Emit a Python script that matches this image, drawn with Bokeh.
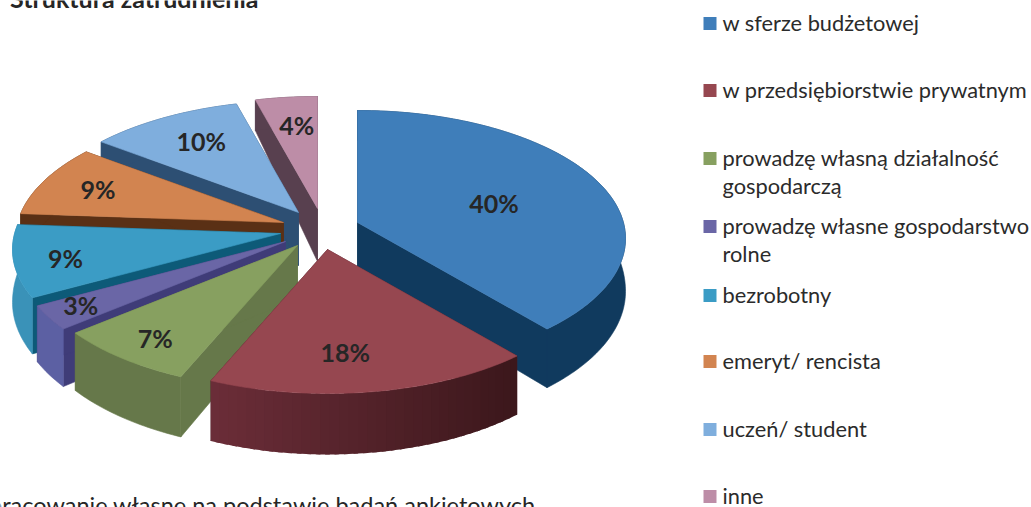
import math
from bokeh.plotting import figure
from bokeh.models import Range1d
from bokeh.core.properties import value
from bokeh.embed import file_html
from bokeh.resources import INLINE

# ---- data ----
categories = ["w sferze budżetowej", "w przedsiębiorstwie prywatnym",
              "prowadzę własną działalność\ngospodarczą",
              "prowadzę własne gospodarstwo\nrolne", "bezrobotny",
              "emeryt/ rencista", "uczeń/ student", "inne"]
shares = [40, 18, 7, 3, 9, 9, 10, 4]

# ---- styles ----
top_colors = ["#3F7EBA", "#964750", "#87A060", "#6A66A6", "#3B9CC5", "#D28450", "#7FAEDD", "#BD8DA7"]
radial_colors = ["#103A5E", "#4F2028", "#66784A", "#3F3C78", "#0D5A78", "#5A3015", "#2D4F73", "#58404F"]
wall_a = ["#103A5E", "#6B2D38", "#66784A", "#5C60A3", "#3A92B8", "#5A3015", "#2D4F73", "#58404F"]
wall_b = ["#103A5E", "#3B171B", "#66784A", "#5C60A3", "#3A92B8", "#5A3015", "#2D4F73", "#58404F"]
legend_colors = ["#3F7EBA", "#964750", "#87A060", "#6A66A6", "#3B9CC5", "#D28450", "#7FAEDD", "#BD8DA7"]

# ---- layout ----
W, H = 1031, 507
CX, CY = 300, 230
RX, RY, SHIFT_Y = 268, 128, 16
explode = [(57, -8), (27, 19), (-3, 15), (-15, 11), (-20, 3), (-17, -8), (-2, -18), (17, -22)]
warp = [0, -9, -3, 2, 3, 4, 3, 1, 0]          # view distortion at slice boundaries, degrees
label_nudge = [(-12, 0), (-9, 17), (-37, 25), (-63, 18), (-55, 8), (-42, -8), (-16, -15), (-2, -17)]
draw_order = [7, 6, 5, 4, 3, 2, 0, 1]
legend_y = [23, 90, 158, 226, 295, 361, 429, 496]
LINE_H = 28


def offset(t_deg, r=1.0):
    t = math.radians(t_deg)
    return r * RX * math.sin(t), r * (SHIFT_Y - RY * math.cos(t))


def depth(t_deg, r=1.0):
    v = r * math.cos(math.radians(t_deg))
    return 53 - 23 * v if v > 0 else 53 - 8 * v


def mix(a, b, f):
    ca = [int(a[i:i + 2], 16) for i in (1, 3, 5)]
    cb = [int(b[i:i + 2], 16) for i in (1, 3, 5)]
    return "#%02x%02x%02x" % tuple(round(x + (y - x) * f) for x, y in zip(ca, cb))


total = sum(shares)
bounds = [0.0]
for s in shares:
    bounds.append(bounds[-1] + 360.0 * s / total)
view = [b + w for b, w in zip(bounds, warp)]

p = figure(width=W, height=H, x_range=Range1d(0, W), y_range=Range1d(H, 0),
           output_backend="svg", toolbar_location=None, min_border=0,
           outline_line_color=None)
p.axis.visible = False
p.grid.visible = False


def poly(xs, ys, c, line=True):
    p.patch(xs, ys, fill_color=c, line_color=c if line else None, line_width=0.6)


for i in draw_order:
    tx, ty = CX + explode[i][0], CY + explode[i][1]
    t0, t1 = view[i], view[i + 1]
    n = max(8, int(t1 - t0))
    ts = [t0 + (t1 - t0) * k / n for k in range(n + 1)]
    pts = [offset(t) for t in ts]
    x_top = [tx + a for a, _ in pts]
    y_top = [ty + b for _, b in pts]
    y_bot = [y + depth(t) for y, t in zip(y_top, ts)]
    d0 = depth(0, 0)
    # radial faces
    poly([tx, x_top[0], x_top[0], tx], [ty, y_top[0], y_bot[0], ty + d0], radial_colors[i])
    poly([tx, x_top[-1], x_top[-1], tx], [ty, y_top[-1], y_bot[-1], ty + d0], radial_colors[i])
    # outer wall: solid, or overlapping shaded bands if the slice has a gradient
    if wall_a[i] == wall_b[i]:
        poly(x_top + x_top[::-1], y_top + y_bot[::-1], wall_a[i])
    else:
        lo, hi = min(x_top), max(x_top)
        for k in range(0, n, 2):
            e = min(k + 3, n)
            f = ((x_top[k] + x_top[e]) / 2 - lo) / max(hi - lo, 1)
            xs = x_top[k:e + 1]
            poly(xs + xs[::-1], y_top[k:e + 1] + y_bot[k:e + 1][::-1],
                 mix(wall_a[i], wall_b[i], f), line=False)
    # top face
    poly([tx] + x_top, [ty] + y_top, top_colors[i])

# percentage labels
lx, ly, lt = [], [], []
for i, s in enumerate(shares):
    mid = (view[i] + view[i + 1]) / 2
    a, b = offset(mid, 0.6)
    lx.append(CX + explode[i][0] + a + label_nudge[i][0])
    ly.append(CY + explode[i][1] + b + label_nudge[i][1])
    lt.append(f"{s}%")
p.text(lx, ly, text=lt, text_font=value("Lato"), text_font_style="bold", text_font_size="25px",
       text_color="#262626", text_align="center", text_baseline="middle")

# legend
p.scatter([709.5] * len(categories), legend_y, marker="square", size=13,
          fill_color=legend_colors, line_color=None)
tx, ty, tt = [], [], []
for c, y in zip(categories, legend_y):
    for j, line in enumerate(c.split("\n")):
        tx.append(722); ty.append(y - 1 + j * LINE_H); tt.append(line)
p.text(tx, ty, text=tt, text_font=value("Lato"), text_font_size="21.8px", text_color="#2b2b2b",
       text_align="left", text_baseline="middle")

# clipped title and source line
p.text([258], [-3], text=["Struktura zatrudnienia"], text_font=value("Lato"), text_font_style="bold",
       text_font_size="25px", text_color="#262626", text_align="right", text_baseline="alphabetic")
p.text([535], [504], text=["Opracowanie własne na podstawie badań ankietowych"], text_font=value("Lato"),
       text_font_size="23.5px", text_color="#262626", text_align="right", text_baseline="alphabetic")

open("out.html", "w").write(file_html(p, INLINE))
